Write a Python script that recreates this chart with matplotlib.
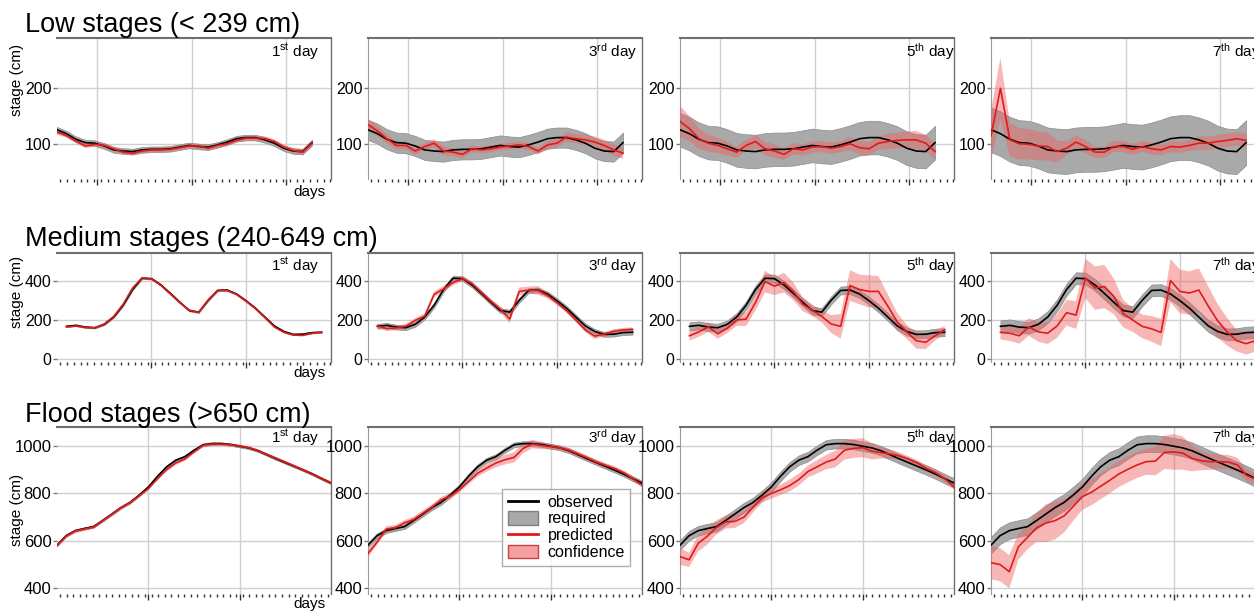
import numpy as np
import matplotlib
matplotlib.use("Agg")
import matplotlib.pyplot as plt
from matplotlib.lines import Line2D
from matplotlib.patches import Patch
from matplotlib.ticker import FixedLocator, NullFormatter

plt.rcParams['font.family'] = ['Liberation Sans', 'DejaVu Sans']
plt.rcParams['mathtext.fontset'] = 'custom'
plt.rcParams['mathtext.rm'] = 'Liberation Sans'
plt.rcParams['mathtext.it'] = 'Liberation Sans'

# ---------------- data ----------------
row_titles = ["Low stages (< 239 cm)", "Medium stages (240-649 cm)", "Flood stages (>650 cm)"]
lead_days = [("1", "st"), ("3", "rd"), ("5", "th"), ("7", "th")]

# Low stages
low_days = np.arange(0, 56, 2)
low_obs = [126, 119, 109, 103, 102, 97, 90, 88, 87, 90, 91, 91, 92, 95, 98, 96, 95, 99, 104, 110,
           112, 112, 108, 102, 93, 88, 87, 103]
low_required = [5, 18, 30, 40]
low_pred_1 = [122, 116, 106, 97, 100, 98, 92, 86, 84, 88, 90, 90, 91, 94, 97, 97, 93, 98, 101, 107,
              111, 111, 110, 105, 95, 89, 86, 102]
low_pred_3 = [135, 124, 110, 98, 98, 88, 96, 102, 88, 86, 82, 92, 90, 92, 95, 97, 99, 96, 88, 99,
              102, 113, 110, 108, 104, 98, 90, 84]
low_pred_5 = [141, 128, 110, 102, 98, 92, 86, 98, 105, 92, 88, 82, 92, 90, 95, 96, 93, 96, 101, 94,
              92, 102, 105, 107, 108, 108, 102, 87]
low_pred_7 = [115, 200, 108, 101, 100, 97, 96, 87, 93, 104, 96, 86, 86, 96, 96, 91, 96, 92, 90, 96,
              95, 98, 102, 102, 105, 107, 110, 107]
low_conf_1 = [5, 4, 4, 4, 4, 4, 4, 4, 4, 4, 4, 4, 4, 4, 4, 4, 4, 4, 4, 4, 4, 4, 4, 4, 4, 4, 5, 5]
low_conf_3 = [10, 9, 8, 7, 7, 6, 6, 7, 8, 7, 7, 6, 6, 6, 6, 6, 6, 6, 6, 7, 7, 8, 8, 9, 10, 10, 10, 10]
low_conf_5 = [28, 22, 18, 15, 14, 12, 10, 10, 12, 12, 12, 10, 10, 10, 10, 10, 10, 10, 12, 12, 12, 12,
              14, 14, 15, 16, 15, 14]
low_conf_7 = [45, 55, 30, 28, 27, 26, 25, 20, 12, 12, 12, 10, 10, 10, 10, 10, 10, 10, 10, 10, 10, 10,
              12, 12, 12, 12, 12, 12]

# Medium stages
med_days = np.arange(2, 58, 2)
med_obs = [168, 173, 164, 161, 178, 215, 275, 355, 412, 410, 378, 335, 290, 248, 240, 300, 350, 352,
           332, 298, 260, 215, 170, 142, 127, 128, 136, 138]
med_required = [4, 12, 20, 30]
med_pred_1 = [165, 170, 162, 160, 180, 218, 280, 362, 414, 408, 376, 332, 288, 250, 238, 302, 350, 350,
              330, 296, 258, 212, 165, 138, 124, 122, 133, 138]
med_pred_3 = [170, 156, 160, 168, 198, 220, 330, 358, 390, 410, 385, 340, 295, 255, 205, 345, 352, 350,
              325, 288, 248, 200, 150, 118, 128, 143, 150, 153]
med_pred_5 = [120, 140, 165, 130, 158, 200, 205, 290, 395, 372, 390, 345, 280, 250, 218, 180, 168, 375,
              355, 345, 345, 270, 190, 140, 95, 87, 120, 150]
med_pred_7 = [137, 133, 120, 165, 140, 133, 170, 237, 225, 412, 362, 370, 320, 232, 200, 168, 155, 137,
              400, 345, 337, 352, 270, 195, 140, 95, 80, 95]
med_conf_1 = [5, 5, 4, 4, 4, 5, 5, 5, 5, 5, 5, 5, 5, 5, 5, 5, 5, 5, 5, 5, 5, 5, 5, 5, 5, 5, 5, 5]
med_conf_3 = [12, 12, 12, 12, 12, 14, 15, 15, 15, 12, 12, 12, 12, 15, 20, 20, 18, 22, 15, 12, 12, 12,
              12, 15, 12, 10, 10, 10]
med_conf_5 = [25, 25, 25, 25, 25, 30, 35, 40, 55, 45, 50, 45, 35, 30, 30, 45, 62, 78, 75, 82, 78, 60,
              45, 35, 40, 35, 25, 20]
med_conf_7 = [35, 40, 40, 45, 50, 55, 60, 65, 70, 100, 110, 110, 90, 70, 60, 60, 65, 70, 110, 110, 110,
              110, 100, 85, 70, 55, 55, 55]

# Flood stages
flood_days = np.arange(0, 62, 2)
flood_obs = [582, 622, 643, 652, 660, 686, 713, 740, 762, 793, 827, 872, 912, 940, 955, 982, 1005, 1010,
             1010, 1006, 999, 992, 980, 963, 946, 930, 914, 898, 881, 862, 844]
flood_required = [5, 10, 20, 35]
flood_pred_1 = [580, 620, 642, 650, 658, 685, 712, 740, 762, 790, 820, 862, 900, 928, 945, 975, 1003,
                1008, 1008, 1005, 1000, 993, 980, 964, 948, 932, 915, 898, 880, 862, 844]
flood_pred_3 = [547, 595, 650, 655, 676, 690, 716, 742, 773, 789, 815, 850, 885, 907, 928, 942, 952, 990,
                1008, 1002, 997, 992, 982, 966, 950, 932, 918, 905, 887, 862, 835]
flood_pred_5 = [534, 520, 590, 620, 657, 680, 682, 700, 742, 782, 800, 815, 833, 858, 892, 912, 932, 945,
                982, 990, 993, 978, 972, 966, 958, 945, 928, 905, 887, 862, 828]
flood_pred_7 = [508, 500, 470, 575, 615, 655, 675, 685, 705, 745, 786, 805, 830, 855, 882, 902, 920, 934,
                936, 973, 975, 970, 948, 938, 934, 934, 932, 920, 875, 860, 840]
flood_conf_1 = [6, 6, 6, 6, 6, 6, 6, 6, 6, 6, 6, 8, 8, 8, 8, 8, 8, 8, 6, 6, 6, 6, 6, 6, 6, 6, 6, 6, 6, 6, 6]
flood_conf_3 = [15, 12, 12, 12, 12, 12, 12, 12, 12, 12, 12, 12, 14, 15, 18, 20, 22, 20, 18, 15, 12, 10,
                10, 10, 10, 10, 10, 10, 10, 10, 10]
flood_conf_5 = [35, 30, 35, 35, 30, 28, 28, 25, 22, 22, 22, 22, 25, 25, 25, 28, 30, 35, 40, 40, 40, 35,
                25, 20, 15, 12, 12, 12, 12, 12, 12]
flood_conf_7 = [70, 70, 70, 55, 50, 60, 80, 80, 70, 60, 55, 55, 55, 55, 55, 55, 55, 55, 60, 70, 75, 70,
                55, 40, 35, 30, 30, 30, 25, 25, 25]

rows = [
    dict(days=low_days, obs=low_obs, req=low_required,
         preds=[low_pred_1, low_pred_3, low_pred_5, low_pred_7],
         confs=[low_conf_1, low_conf_3, low_conf_5, low_conf_7],
         top=38, bottom=179, xlim=(0, 58), xgrid=[8.5, 28.5, 48.5],
         ylim=(38, 290), yticks=[100, 200], title_base=32, ylab_y=80,
         day_base=57, days_base=196, tsize=11.5),
    dict(days=med_days, obs=med_obs, req=med_required,
         preds=[med_pred_1, med_pred_3, med_pred_5, med_pred_7],
         confs=[med_conf_1, med_conf_3, med_conf_5, med_conf_7],
         top=253, bottom=362, xlim=(0, 58), xgrid=[20, 40],
         ylim=(-13, 540), yticks=[0, 200, 400], title_base=246, ylab_y=292,
         day_base=271, days_base=377, tsize=11.5),
    dict(days=flood_days, obs=flood_obs, req=flood_required,
         preds=[flood_pred_1, flood_pred_3, flood_pred_5, flood_pred_7],
         confs=[flood_conf_1, flood_conf_3, flood_conf_5, flood_conf_7],
         top=427, bottom=594, xlim=(0, 60), xgrid=[20, 40],
         ylim=(376, 1080), yticks=[400, 600, 800, 1000], title_base=422, ylab_y=510,
         day_base=443, days_base=608, tsize=12),
]

# ---------------- layout ----------------
W, H = 1254, 612
fig = plt.figure(figsize=(W / 100, H / 100), dpi=100)
panel_left = [57, 368, 680, 991]
panel_width = 274
label_offset = [214, 220, 226, 221]

GRAY = '#a9a9a9'
PINK = '#f06060'
RED = '#e01b1b'


def fx(px):
    return px / W


def fy(py):
    return 1 - py / H


panel_axes = []
for r, row in enumerate(rows):
    x = row['days']
    obs = np.array(row['obs'], dtype=float)
    for c in range(4):
        l = panel_left[c]
        ax = fig.add_axes([fx(l), fy(row['bottom']), panel_width / W,
                           (row['bottom'] - row['top']) / H])
        pred = np.array(row['preds'][c], dtype=float)
        conf = np.array(row['confs'][c], dtype=float)
        req = row['req'][c]

        ax.fill_between(x, obs - req, obs + req, facecolor=GRAY, edgecolor='#8c8c8c',
                        lw=0.5, zorder=2)
        ax.fill_between(x, pred - conf, pred + conf, facecolor=PINK, alpha=0.45,
                        lw=0, zorder=3)
        ax.plot(x, obs, color='black', lw=1.2, zorder=4)
        ax.plot(x, pred, color=RED, lw=1.2, zorder=5)

        ax.set_xlim(*row['xlim'])
        ax.set_ylim(*row['ylim'])
        ax.set_axisbelow(True)
        ax.xaxis.set_major_locator(FixedLocator(row['xgrid']))
        x0, x1 = row['xlim']
        ax.xaxis.set_minor_locator(FixedLocator(np.arange(x0 + 0.7, x1, 20 / 14)))
        ax.xaxis.set_major_formatter(NullFormatter())
        ax.set_yticks(row['yticks'])
        ax.grid(True, which='major', color='#d0d0d0', lw=1)
        ax.tick_params(axis='x', which='major', length=4, width=1, color='#333333', direction='out')
        ax.tick_params(axis='x', which='minor', length=2, width=1, color='#333333', direction='out')
        ax.tick_params(axis='y', which='major', length=3, width=1, color='#777777',
                       labelsize=row['tsize'], pad=1, direction='out')

        for side in ['top', 'right', 'left', 'bottom']:
            ax.spines[side].set_color('#6e6e6e')
        ax.spines['top'].set_linewidth(1.5)
        ax.spines['right'].set_linewidth(1.0)
        ax.spines['bottom'].set_visible(False)
        if c == 0:
            ax.spines['left'].set_visible(False)
        else:
            ax.spines['left'].set_color('#9a9a9a')

        num, suf = lead_days[c]
        fig.text(fx(l + label_offset[c]), fy(row['day_base']),
                 r'$\mathregular{' + num + '^{' + suf + '}}$ day',
                 fontsize=11, ha='left', va='baseline', zorder=10)
        panel_axes.append(ax)

    # row title, axis labels
    fig.text(fx(25), fy(row['title_base']), row_titles[r], fontsize=19.5,
             ha='left', va='baseline', zorder=20)
    fig.text(fx(17), fy(row['ylab_y']), 'stage (cm)', rotation=90, fontsize=11,
             ha='center', va='center')
    fig.text(fx(326), fy(row['days_base']), 'days', fontsize=11, ha='right', va='baseline')

# legend
handles = [
    Line2D([], [], color='black', lw=2),
    Patch(facecolor=GRAY, edgecolor='#808080'),
    Line2D([], [], color=RED, lw=2),
    Patch(facecolor='#f4a0a0', edgecolor='#d04040'),
]
leg = panel_axes[9].legend(handles, ['observed', 'required', 'predicted', 'confidence'],
                           loc='upper left', bbox_to_anchor=(fx(502), fy(489)),
                           bbox_transform=fig.transFigure, borderaxespad=0,
                           fontsize=11.5, frameon=True, fancybox=False,
                           labelspacing=0.1, borderpad=0.35, handlelength=1.9,
                           handleheight=0.9, handletextpad=0.6)
leg.get_frame().set_edgecolor('#999999')
leg.get_frame().set_linewidth(1)
leg.set_zorder(30)

fig.savefig('out.png', dpi=100, facecolor='white')
